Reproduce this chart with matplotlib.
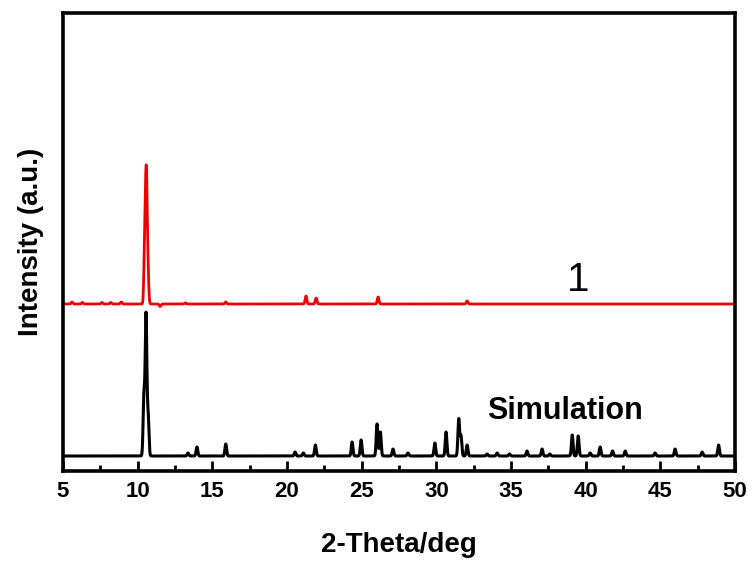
import numpy as np
import matplotlib
matplotlib.use("Agg")
import matplotlib.pyplot as plt
from matplotlib.ticker import MultipleLocator

# ---- data ----
sim_pos = [10.42, 10.56, 10.70, 13.37, 13.97, 15.90, 20.54, 21.10, 21.90, 24.36, 24.96,
           26.03, 26.25, 27.10, 28.10, 29.90, 30.65, 31.50, 31.65, 32.06, 33.40, 34.07,
           34.90, 36.07, 37.08, 37.60, 39.10, 39.50, 40.30, 40.97, 41.80, 42.65, 44.65,
           45.99, 47.80, 48.90]
sim_int = [60, 140, 40, 3, 9, 12, 4, 3, 11, 14, 16,
           32, 24, 7, 3, 13, 24, 37, 20, 11, 2, 3,
           2, 5, 7, 2, 21, 20, 3, 9, 5, 5, 3,
           7, 4, 11]

exp_pos = [5.6, 6.3, 7.6, 8.2, 8.9, 10.48, 10.58, 10.68, 11.50, 13.2, 15.90, 21.27, 21.95,
           26.10, 32.06]
exp_int = [2, 1.5, 1.5, 1.5, 2, 70, 118, 35, -2.5, 1.2, 2, 8, 6, 7, 3]

xticks = [5, 10, 15, 20, 25, 30, 35, 40, 45, 50]

# ---- figure ----
plt.rcParams['font.family'] = ['Liberation Sans', 'DejaVu Sans']

fig = plt.figure(figsize=(7.52, 5.62), dpi=100)
ax = fig.add_axes([63/752, 1 - 471/562, (735-63)/752, (471-13)/562])

x = np.linspace(5, 50, 9001)

def profile(pos, inten, w=0.055):
    y = np.zeros_like(x)
    for p, h in zip(pos, inten):
        y += h * np.exp(-0.5 * ((x - p) / w) ** 2)
    return y

sim_offset = 15
exp_offset = 167
ax.plot(x, profile(sim_pos, sim_int) + sim_offset, color='black', lw=2.2)
ax.plot(x, profile(exp_pos, exp_int) + exp_offset, color='#ee0000', lw=2.0)

ax.set_xlim(5, 50)
ax.set_ylim(0, 458)
ax.set_yticks([])
ax.set_xticks(xticks)
ax.xaxis.set_minor_locator(MultipleLocator(2.5))
ax.tick_params(axis='x', which='major', direction='in', length=7, width=2,
               pad=7, labelsize=16)
ax.tick_params(axis='x', which='minor', direction='in', length=4, width=2)
for lab in ax.get_xticklabels():
    lab.set_fontweight('bold')
for s in ax.spines.values():
    s.set_linewidth(2.6)

ax.set_xlabel('2-Theta/deg', fontsize=20, fontweight='bold', labelpad=22)
ax.set_ylabel('Intensity (a.u.)', fontsize=20, fontweight='bold', labelpad=14)

ax.text(39.5, 191, '1', fontsize=29, ha='center', va='center')
ax.text(38.6, 60, 'Simulation', fontsize=22, fontweight='bold', ha='center', va='center')

fig.savefig('out.png', dpi=100)
